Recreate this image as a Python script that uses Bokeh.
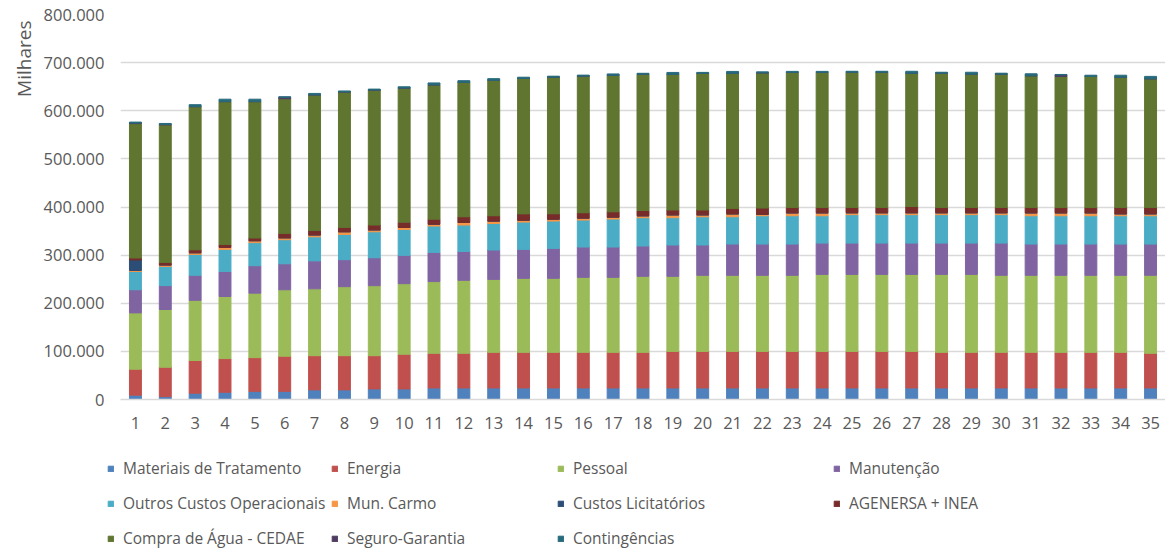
from bokeh.plotting import figure
from bokeh.models import (ColumnDataSource, Legend, LegendItem, FixedTicker,
                          CustomJSTickFormatter, Range1d, Title)
from bokeh.embed import file_html
from bokeh.resources import INLINE

# ---- data (values in thousands of the axis unit, i.e. 9 -> 9.000) ----
periods = list(range(1, 36))

materiais = [9, 6, 13, 15, 17, 17, 20, 20, 22, 22, 24, 24, 24, 24, 24, 24, 24, 24,
             24, 24, 24, 24, 24, 24, 24, 24, 24, 24, 24, 24, 24, 24, 24, 24, 24]
energia = [54, 61, 68, 70, 70, 73, 71, 71, 69, 72, 72, 72, 74, 74, 74, 74, 74, 74,
           76, 76, 76, 76, 76, 76, 76, 76, 76, 74, 74, 74, 74, 74, 74, 74, 72]
pessoal = [117, 120, 125, 129, 134, 138, 139, 143.5, 145.5, 146.7, 149, 151.6, 151.6,
           153.7, 153.7, 155.8, 155.8, 157.9, 155.9, 158, 158, 158, 158, 160, 160, 160,
           160, 162, 162, 160, 160, 160, 160, 160, 162]
manutencao = [48, 49.6, 52, 52, 57, 54, 58, 56, 58, 58.8, 60.7, 60.1, 61, 60.2, 62.3,
              63, 63, 63.1, 65.1, 63, 65, 65, 65, 65, 65, 65, 65, 65, 65, 67, 65, 65,
              65, 65, 65]
outros = [38, 40, 43.5, 46, 48, 50, 50, 52.5, 54, 54, 54.7, 54.8, 55.2, 56.8, 56.8, 56,
          58.2, 58.7, 56.7, 58.7, 56.7, 58.8, 58.8, 56.8, 59, 59, 59, 59, 59, 59, 58.8,
          58.8, 58.8, 58.8, 58.8]
mun_carmo = [2, 3, 3.5, 4, 4, 4, 4, 5.6, 4, 4, 4, 5.5, 5, 4, 4, 4.2, 4, 4, 6, 4, 6, 3,
             6, 6, 4, 4, 4, 4, 4, 4, 6, 6, 6, 4, 4]
licitatorios = [22, 0, 0, 0, 0, 0, 0, 0, 0, 0, 0, 0, 0, 0, 0, 0, 0, 0, 0, 0, 0, 0, 0,
                0, 0, 0, 0, 0, 0, 0, 0, 0, 0, 0, 0]
agenersa = [4, 5, 6, 6, 5.5, 9, 9, 9, 10, 11, 10.4, 11.7, 11, 13, 11, 11, 11, 11, 10,
            10, 11, 13, 11, 11, 11, 11, 13, 11, 11, 11, 11, 11, 11, 13, 13]
compra = [279.4, 286, 297.6, 297, 283.5, 280, 282, 281.5, 280.5, 278.7, 279, 279.3,
          281.6, 281.5, 284, 284, 283.7, 283.1, 281.9, 284, 281, 281, 281, 281, 281,
          281, 277, 279, 277, 277, 274, 272.6, 272.6, 271, 267.7]
seguro = [1, 1, 0, 0, 0, 3, 0, 0, 0, 0, 0, 0, 0, 0, 0, 0, 0, 0, 0, 0, 0, 0, 0, 0, 0,
          0, 0, 0, 0, 0, 0, 3, 0, 0, 0]
contingencias = [2, 2, 4, 5, 5, 1, 3, 2, 2, 2.6, 4, 3.5, 3.3, 2.5, 2, 2, 2.8, 2, 4, 2,
                 4, 2, 2, 2, 2, 2, 4, 2, 4, 2, 4, 1, 2.4, 4, 4.9]

series_names = ["Materiais de Tratamento", "Energia", "Pessoal", "Manutenção",
                "Outros Custos Operacionais", "Mun. Carmo", "Custos Licitatórios",
                "AGENERSA + INEA", "Compra de Água - CEDAE", "Seguro-Garantia",
                "Contingências"]
series_values = [materiais, energia, pessoal, manutencao, outros, mun_carmo,
                 licitatorios, agenersa, compra, seguro, contingencias]
colors = ["#4F81BD", "#C0504D", "#9BBB59", "#8064A2", "#4BACC6", "#F79646",
          "#2C4D75", "#772C2A", "#5F7530", "#4D3B62", "#276A7C"]
y_ticks = [0, 100000, 200000, 300000, 400000, 500000, 600000, 700000, 800000]
y_title = "Milhares"

# ---- build ----
keys = ["s%d" % i for i in range(len(series_names))]
data = {"x": periods}
for k, vals in zip(keys, series_values):
    data[k] = [v * 1000 for v in vals]
src = ColumnDataSource(data)

FONT = "Open Sans"
FS = "16.5px"
FS_LEG = "15.5px"
TXT = "#595959"
GRID = "#D9D9D9"

W = 1165
H_MAIN = 446
H_LEG = 553 - H_MAIN

p = figure(width=W, height=H_MAIN, output_backend="svg", toolbar_location=None,
           x_range=Range1d(0.5, 35.5), y_range=Range1d(0, 800000),
           min_border_left=120, min_border_right=0, min_border_top=14,
           min_border_bottom=H_MAIN - 399)

renderers = p.vbar_stack(keys, x="x", width=0.4, color=colors, source=src)

p.outline_line_color = None
p.xgrid.grid_line_color = None
p.ygrid.grid_line_color = GRID
p.ygrid.grid_line_width = 1.5
p.ygrid.ticker = FixedTicker(ticks=y_ticks)

p.yaxis.ticker = FixedTicker(ticks=y_ticks)
p.yaxis.formatter = CustomJSTickFormatter(
    code="return Math.round(tick).toString().replace(/\\B(?=(\\d{3})+(?!\\d))/g, '.');")
p.yaxis.axis_line_color = None
p.yaxis.major_tick_line_color = None
p.yaxis.minor_tick_line_color = None
p.yaxis.major_tick_out = 0
p.yaxis.major_tick_in = 0
p.yaxis.minor_tick_out = 0
p.yaxis.minor_tick_in = 0
p.yaxis.major_label_standoff = 16

p.xaxis.ticker = FixedTicker(ticks=periods)
p.xaxis.axis_line_color = GRID
p.xaxis.axis_line_width = 1.5
p.xaxis.major_tick_line_color = None
p.xaxis.minor_tick_line_color = None
p.xaxis.major_tick_out = 0
p.xaxis.major_tick_in = 0
p.xaxis.minor_tick_out = 0
p.xaxis.minor_tick_in = 0
p.xaxis.major_label_standoff = 17

for ax in (p.xaxis, p.yaxis):
    ax.major_label_text_font = FONT
    ax.major_label_text_font_size = FS
    ax.major_label_text_color = TXT

p.add_layout(Title(text=y_title, align="right", offset=6, standoff=8,
                   text_font=FONT, text_font_size="19px", text_font_style="normal",
                   text_color=TXT), "left")

# ---- legend figure: same series drawn out of view, only its legend shows ----
lg = figure(width=W, height=H_LEG, output_backend="svg", toolbar_location=None,
            x_axis_location=None, y_axis_location=None,
            x_range=Range1d(-20, -19), y_range=Range1d(0, 1),
            min_border_left=0, min_border_right=0, min_border_top=0,
            min_border_bottom=0)
lg.outline_line_color = None
lg.xgrid.grid_line_color = None
lg.ygrid.grid_line_color = None
proxies = lg.vbar_stack(keys, x="x", width=0.4, color=colors, source=src)

ITEM_H = 24
GAP = 11
columns = [[0, 4, 8], [1, 5, 9], [2, 6, 10], [3, 7]]
col_x = [107, 331, 557, 833]
row_top = 468 - H_MAIN - ITEM_H // 2  # top of first legend row, legend-figure px
for idxs, cx in zip(columns, col_x):
    items = [LegendItem(label=series_names[i], renderers=[proxies[i]]) for i in idxs]
    n = len(idxs)
    height = n * ITEM_H + (n - 1) * GAP
    leg = Legend(items=items, location=(cx, H_LEG - (row_top + height)),
                 orientation="vertical", padding=0, margin=0, spacing=GAP,
                 glyph_width=7, glyph_height=7, label_height=ITEM_H,
                 label_standoff=9, label_text_font=FONT,
                 label_text_font_size=FS_LEG, label_text_color=TXT,
                 border_line_color=None, background_fill_alpha=0)
    lg.add_layout(leg, "center")

open("out.html", "w").write(file_html([p, lg], INLINE))
